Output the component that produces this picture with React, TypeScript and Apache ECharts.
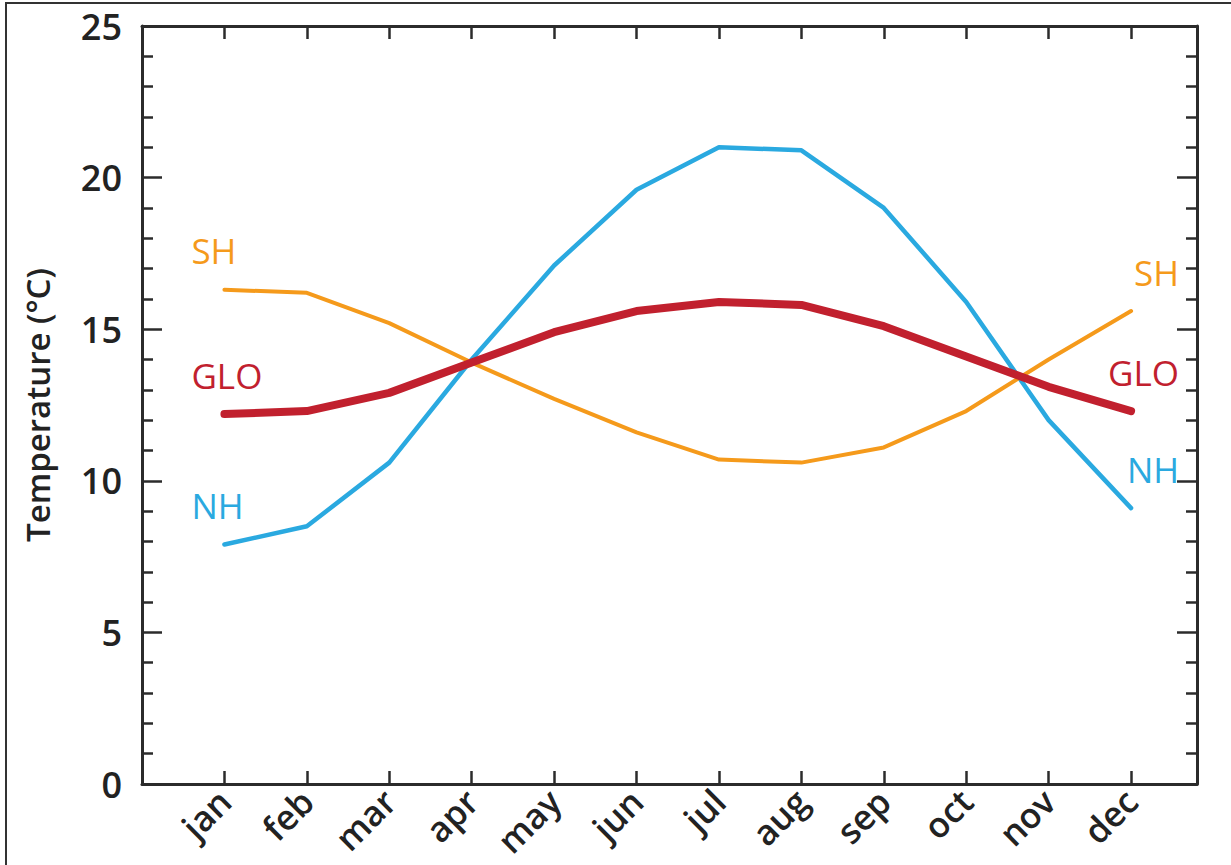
import React, { useEffect, useRef } from "react";
import * as echarts from "echarts";

const months = ["jan", "feb", "mar", "apr", "may", "jun", "jul", "aug", "sep", "oct", "nov", "dec"];
const nhValues = [7.9, 8.5, 10.6, 14.0, 17.1, 19.6, 21.0, 20.9, 19.0, 15.9, 12.0, 9.1];
const shValues = [16.3, 16.2, 15.2, 13.9, 12.7, 11.6, 10.7, 10.6, 11.1, 12.3, 14.0, 15.6];
const gloValues = [12.2, 12.3, 12.9, 13.9, 14.9, 15.6, 15.9, 15.8, 15.1, 14.1, 13.1, 12.3];
const yTicks = [0, 5, 10, 15, 20, 25];

const FONT = "Open Sans";
const AXIS = "#2b2b2b";

function buildData(values: number[], name: string, color: string) {
  return values.map((v, i) => {
    const item: any = { value: [i + 1, v] };
    if (i === 0 || i === values.length - 1) {
      item.symbolSize = 1;
      item.label = {
        show: true,
        formatter: name,
        position: "top",
        distance: 21,
        align: i === 0 ? "left" : "right",
        offset: i === 0 ? [-33, 0] : [48, 0],
        color,
        fontFamily: FONT,
        fontWeight: 500,
        fontSize: 35,
      };
    }
    return item;
  });
}

export default function App() {
  const ref = useRef<HTMLDivElement>(null);
  useEffect(() => {
    if (!ref.current) return;
    const chart = echarts.init(ref.current, undefined, { renderer: "svg" });
    const xLabel = (v: number) =>
      Number.isInteger(v) && v >= 1 && v <= 12 ? months[v - 1] : "";
    const yLabel = (v: number) => (yTicks.includes(v) ? String(v) : "");
    const series = [
      { name: "NH", color: "#2aa9e0", width: 4.5, values: nhValues },
      { name: "SH", color: "#f59a1b", width: 4, values: shValues },
      { name: "GLO", color: "#c1202e", width: 8, values: gloValues },
    ];
    chart.setOption({
      animation: false,
      backgroundColor: "#ffffff",
      graphic: [
        {
          type: "rect",
          shape: { x: 6, y: 3, width: 1300, height: 1000 },
          style: { fill: "none", stroke: "#333", lineWidth: 2 },
          silent: true,
        },
      ],
      grid: { left: 142, top: 26, right: 34, bottom: 81, containLabel: false },
      xAxis: [
        {
          type: "value",
          min: 0,
          max: 12.8,
          interval: 1,
          position: "bottom",
          splitLine: { show: false },
          axisLine: { show: true, onZero: false, lineStyle: { color: AXIS, width: 3 } },
          axisTick: { show: true, inside: true, length: 13, lineStyle: { color: AXIS, width: 2.5 } },
          axisLabel: {
            formatter: xLabel,
            rotate: 45,
            margin: 11,
            color: "#222",
            fontFamily: FONT,
            fontWeight: 600,
            fontSize: 35,
            showMinLabel: true,
            showMaxLabel: true,
          },
        },
        {
          type: "value",
          min: 0,
          max: 12.8,
          interval: 1,
          position: "top",
          splitLine: { show: false },
          axisLine: { show: true, onZero: false, lineStyle: { color: AXIS, width: 3 } },
          axisTick: { show: true, inside: true, length: 13, lineStyle: { color: AXIS, width: 2.5 } },
          axisLabel: { show: false },
        },
      ],
      yAxis: [
        {
          type: "value",
          min: 0,
          max: 25,
          interval: 5,
          position: "left",
          name: "Temperature (°C)",
          nameLocation: "middle",
          nameRotate: 90,
          nameGap: 88,
          nameTextStyle: { color: "#222", fontFamily: FONT, fontWeight: 600, fontSize: 33 },
          splitLine: { show: false },
          axisLine: { show: true, onZero: false, lineStyle: { color: AXIS, width: 3 } },
          axisTick: { show: true, inside: true, length: 20, lineStyle: { color: AXIS, width: 2.5 } },
          minorTick: { show: true, splitNumber: 5, length: 11, lineStyle: { color: AXIS, width: 2.5 } },
          axisLabel: {
            formatter: yLabel,
            margin: 20,
            color: "#222",
            fontFamily: FONT,
            fontWeight: 600,
            fontSize: 36,
          },
        },
        {
          type: "value",
          min: 0,
          max: 25,
          interval: 5,
          position: "right",
          splitLine: { show: false },
          axisLine: { show: true, onZero: false, lineStyle: { color: AXIS, width: 3 } },
          axisTick: { show: true, inside: true, length: 20, lineStyle: { color: AXIS, width: 2.5 } },
          minorTick: { show: true, splitNumber: 5, length: 11, lineStyle: { color: AXIS, width: 2.5 } },
          axisLabel: { show: false },
        },
      ],
      series: series.map((s) => ({
        type: "line",
        name: s.name,
        xAxisIndex: 0,
        yAxisIndex: 0,
        data: buildData(s.values, s.name, s.color),
        symbol: "circle",
        symbolSize: 0.01,
        showSymbol: true,
        itemStyle: { color: s.color },
        lineStyle: { color: s.color, width: s.width, cap: "round", join: "round" },
        emphasis: { disabled: true },
        z: s.name === "GLO" ? 4 : 3,
      })),
    });
    return () => chart.dispose();
  }, []);
  return (
    <div
      ref={ref}
      style={{ position: "fixed", left: 0, top: 0, width: 1231, height: 865, background: "#fff" }}
    />
  );
}
